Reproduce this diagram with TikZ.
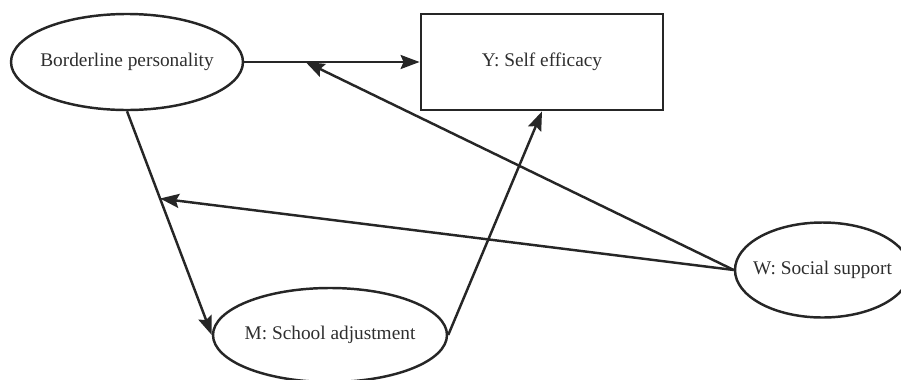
\documentclass[tikz,border=0pt]{standalone}
\usepackage{fontspec}
\setmainfont{Liberation Serif}
\usetikzlibrary{calc,arrows.meta,shapes.geometric}
\definecolor{inkgray}{HTML}{262626}
\definecolor{textgray}{HTML}{2E2E2E}

\begin{document}
\begin{tikzpicture}[
		var/.style={draw=inkgray, line width=1.4pt, ellipse, inner sep=-6mm, text=textgray, font=\fontsize{11}{13}\selectfont},
		outbox/.style={draw=inkgray, line width=1.6pt, rectangle, inner sep=0pt, text=textgray, font=\fontsize{11}{13}\selectfont},
		path/.style={draw=inkgray, line width=1.4pt, -{Stealth[length=3.8mm, width=2.8mm, inset=0.6mm]}}
	]
		%%%%% START %%%%%
		
		\useasboundingbox (0, 0) rectangle (18.02, 7.58);
		
		\node[var, minimum width=4.64cm, minimum height=1.92cm] (bp) at (2.54, 6.34) {Borderline personality};
		\node[outbox, minimum width=4.84cm, minimum height=1.92cm] (se) at (10.84, 6.34) {Y: Self efficacy};
		\node[var, minimum width=4.68cm, minimum height=1.88cm] (sa) at (6.6, 0.88) {M: School adjustment};
		\node[var, minimum width=3.5cm, minimum height=1.9cm] (ss) at (16.45, 2.18) {W: Social support};
		
		\coordinate (xy) at ($(bp.east)!0.35!(se.west)$);
		\coordinate (xm) at ($(bp.south)!0.39!(sa.west)$);
		
		\draw[path] (bp.east) -- (se.west);
		\draw[path] (bp.south) -- (sa.west);
		\draw[path] (sa.east) -- (se.south);
		
		\draw[path] (ss.west) -- (xy);
		\draw[path] (ss.west) -- (xm);
		
		%%%%% END %%%%%
	\end{tikzpicture}
\end{document}
